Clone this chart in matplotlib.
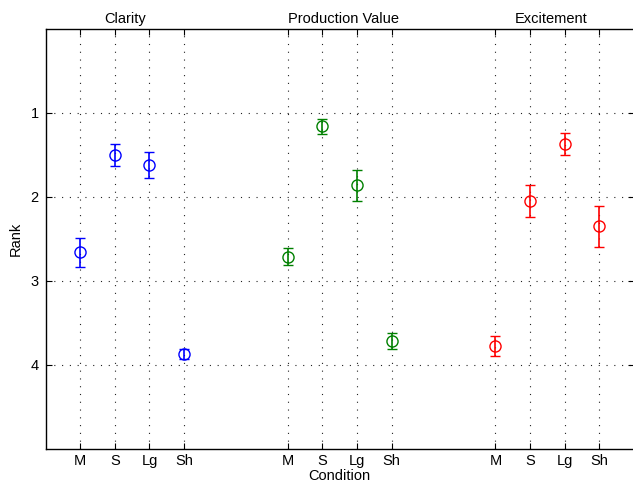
import numpy as np
import matplotlib
matplotlib.use("Agg")
import matplotlib.pyplot as plt

plt.rcParams['font.family'] = ['Liberation Sans', 'DejaVu Sans']

# --- data ---
conditions = ["M", "S", "Lg", "Sh"]
groups = ["Clarity", "Production Value", "Excitement"]
x_pos = [[1, 2, 3, 4], [7, 8, 9, 10], [13, 14, 15, 16]]

clarity_mean = [2.66, 1.50, 1.62, 3.87]
clarity_err = [0.17, 0.13, 0.16, 0.06]
production_mean = [2.71, 1.16, 1.86, 3.71]
production_err = [0.10, 0.085, 0.185, 0.095]
excitement_mean = [3.77, 2.05, 1.37, 2.35]
excitement_err = [0.12, 0.19, 0.135, 0.245]

means = [clarity_mean, production_mean, excitement_mean]
errs = [clarity_err, production_err, excitement_err]
colors = ["#0000ff", "#008000", "#ff0000"]
title_x = [2.3, 8.6, 14.6]   # where the group titles sit

fig = plt.figure(figsize=(6.33, 4.84), dpi=100)
ax = fig.add_axes([0.0722, 0.0723, 0.929, 0.868])

for xs, m, e, c in zip(x_pos, means, errs, colors):
    ax.errorbar(xs, m, yerr=e, fmt='o', mfc='none', mec=c, ecolor=c,
                ms=8, mew=1.0, elinewidth=1.2, capsize=3.5, capthick=1.2)

ax.set_xlim(0, 17)
ax.set_ylim(5, 0)
ax.set_yticks([1, 2, 3, 4])
ticks = [x for xs in x_pos for x in xs]
ax.set_xticks(ticks)
ax.set_xticklabels(conditions * 3)
ax.tick_params(direction='in', top=True, right=True, length=4, labelsize=10.5)
ax.tick_params(axis='y', pad=5)
ax.grid(True, color='#222222', linestyle=(0, (1, 6)), linewidth=0.8)
for s in ax.spines.values():
    s.set_linewidth(1.0)

for tx, g in zip(title_x, groups):
    ax.text(tx, -0.03, g, ha='center', va='bottom', fontsize=10.5)

ax.set_xlabel("Condition", fontsize=10.5, labelpad=1)
ax.set_ylabel("Rank", fontsize=10.5, labelpad=6)

fig.savefig("out.png", dpi=100)
